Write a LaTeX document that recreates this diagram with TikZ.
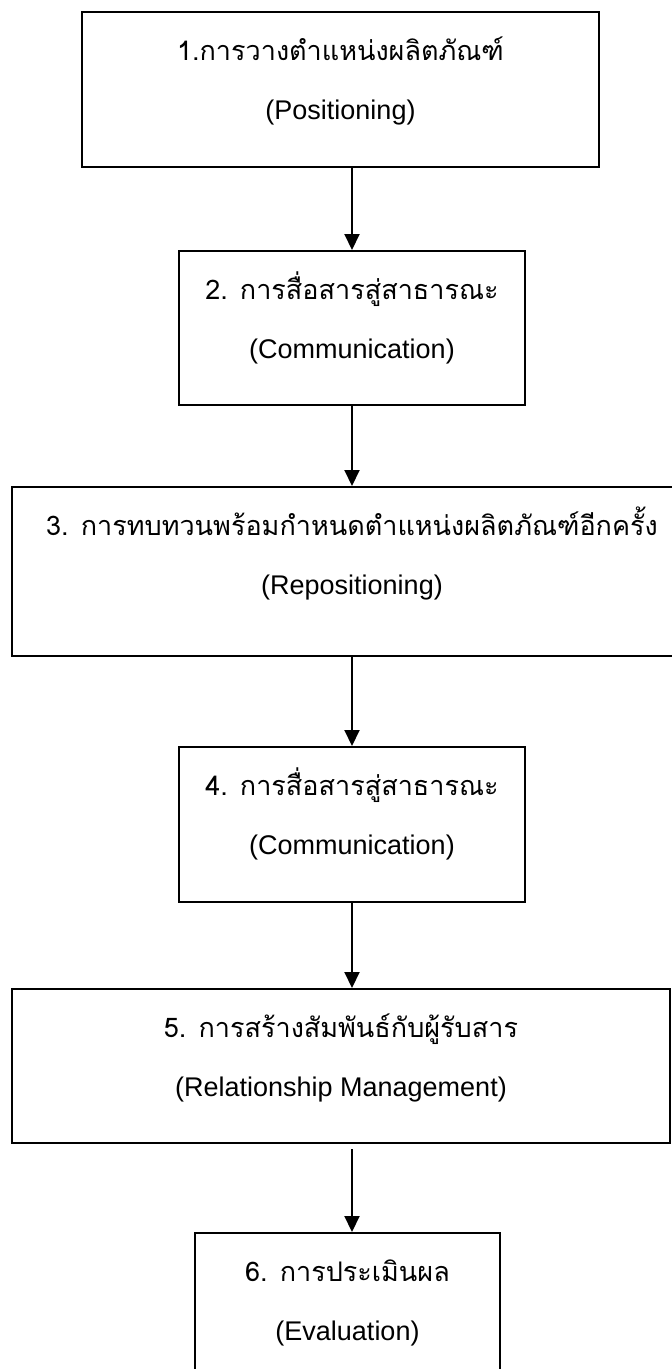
\documentclass[tikz,border=0pt]{standalone}
\usepackage{fontspec}
\setmainfont{Liberation Sans}
\newfontfamily\thaifont[Script=Thai]{Loma}
\usetikzlibrary{arrows.meta, positioning}

\begin{document}
\begin{tikzpicture}[x=1pt, y=-1pt, every node/.style={font=\fontsize{27}{30}\selectfont}]
  \tikzset{box/.style={draw, line width=2pt, inner sep=0pt}}
  \tikzset{th/.style={font=\thaifont\fontsize{27}{30}\selectfont, anchor=base, yshift=-49pt}}
  \tikzset{en/.style={anchor=base, yshift=-108pt}}
  \tikzset{flow/.style={line width=2pt, -{Triangle[length=16pt, width=15pt]}}}
  \useasboundingbox (0,0) rectangle (672,1369);
  \node[box, minimum width=517pt, minimum height=155pt] (b1) at (340.5, 89.5) {};
  \node[box, minimum width=346pt, minimum height=154pt] (b2) at (352, 328) {};
  \node[box, minimum width=680pt, minimum height=169pt] (b3) at (352, 571.5) {};
  \node[box, minimum width=346pt, minimum height=155pt] (b4) at (352, 824.5) {};
  \node[box, minimum width=658pt, minimum height=154pt] (b5) at (341, 1066) {};
  \node[box, minimum width=305pt, minimum height=152pt] (b6) at (347.5, 1309) {};
  \node[th] (t1) at (b1.north) {1.การวางตำแหน่งผลิตภัณฑ์};
  \node[en] (e1) at (b1.north) {(Positioning)};
  \node[th] (t2) at (b2.north) {2. การสื่อสารสู่สาธารณะ};
  \node[en] (e2) at (b2.north) {(Communication)};
  \node[th] (t3) at (b3.north) {3. การทบทวนพร้อมกำหนดตำแหน่งผลิตภัณฑ์อีกครั้ง};
  \node[en] (e3) at (b3.north) {(Repositioning)};
  \node[th] (t4) at (b4.north) {4. การสื่อสารสู่สาธารณะ};
  \node[en] (e4) at (b4.north) {(Communication)};
  \node[th] (t5) at (b5.north) {5. การสร้างสัมพันธ์กับผู้รับสาร};
  \node[en] (e5) at (b5.north) {(Relationship Management)};
  \node[th] (t6) at (b6.north) {6. การประเมินผล};
  \node[en] (e6) at (b6.north) {(Evaluation)};
  \draw[flow] (b1.south -| b2.north) -- (b2.north);
  \draw[flow] (b2.south) -- (b3.north);
  \draw[flow] (b3.south) -- (b4.north);
  \draw[flow] (b4.south) -- (b5.north -| b4.north);
  \draw[flow, shorten <=5pt] (b5.south -| b4.north) -- (b6.north -| b4.north);
\end{tikzpicture}
\end{document}
